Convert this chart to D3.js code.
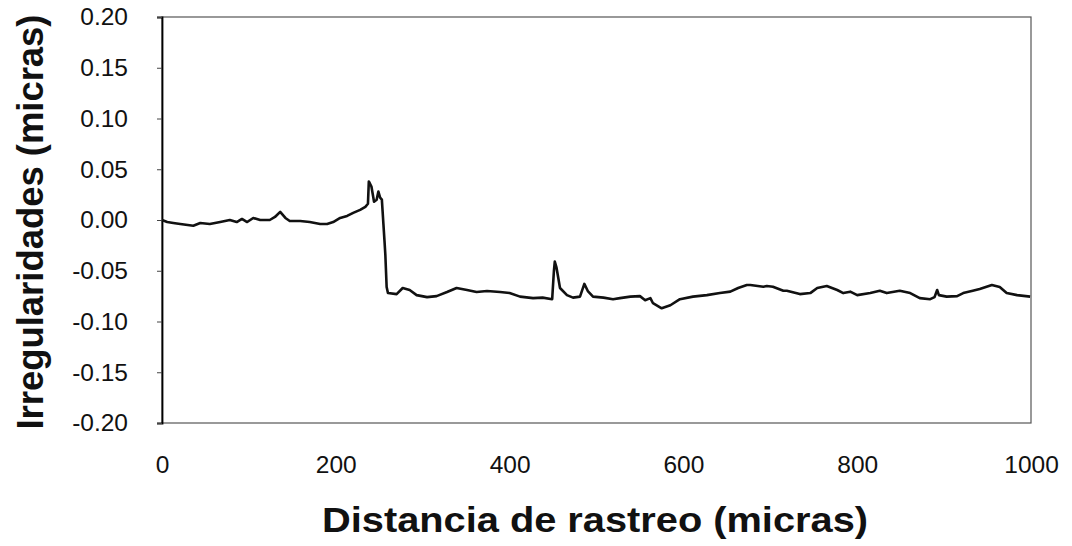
<!DOCTYPE html>
<html><head><meta charset="utf-8">
<script src="https://cdn.jsdelivr.net/npm/d3@7"></script>
<style>body{margin:0;background:#fff}svg{display:block}</style>
</head><body>
<script>
const distancia = [0,6,13,21,36,44,55,67,78,86,92,98,105,113,124,130,136,142,147,159,170,182,190,197,205,213,220,228,234,237,238,241,244,247,249,251,253,256,257,258.5,260,270,277,285,293,305,316,328,339,351,362,374,389,400,412,427,438,449,451,452,454,458,466,473,481,486,490,496,508,519,527,539,550,556,562,565,575,585,596,611,627,642,654,663,673,677,692,696,703,715,719,734,746,754,765,777,784,792,800,815,826,834,849,861,872,884,889,892,894,903,915,922,933,941,955,964,972,984,999];
const irregularidades = [0,-0.002,-0.003,-0.004,-0.0056,-0.003,-0.004,-0.002,0,-0.002,0.001,-0.002,0.002,0,0,0.003,0.008,0.002,-0.001,-0.001,-0.002,-0.004,-0.004,-0.002,0.002,0.004,0.007,0.01,0.013,0.016,0.038,0.033,0.018,0.02,0.028,0.022,0.02,-0.02,-0.034,-0.066,-0.072,-0.073,-0.067,-0.069,-0.074,-0.076,-0.075,-0.071,-0.067,-0.069,-0.071,-0.070,-0.071,-0.072,-0.0755,-0.077,-0.0765,-0.078,-0.05,-0.041,-0.047,-0.067,-0.074,-0.0765,-0.0755,-0.063,-0.070,-0.0755,-0.0765,-0.078,-0.077,-0.0755,-0.075,-0.079,-0.077,-0.082,-0.087,-0.084,-0.078,-0.0755,-0.074,-0.072,-0.0706,-0.067,-0.064,-0.064,-0.0657,-0.065,-0.0657,-0.0697,-0.0697,-0.073,-0.072,-0.067,-0.065,-0.069,-0.072,-0.0706,-0.074,-0.072,-0.0697,-0.072,-0.0697,-0.072,-0.077,-0.078,-0.076,-0.069,-0.074,-0.0755,-0.075,-0.072,-0.0697,-0.068,-0.064,-0.066,-0.072,-0.074,-0.0755];
const yTicks = [0.20,0.15,0.10,0.05,0.00,-0.05,-0.10,-0.15,-0.20];
const xTicks = [0,200,400,600,800,1000];

const W=1072,H=546;
const svg=d3.select("body").append("svg").attr("width",W).attr("height",H);
const x=d3.scaleLinear().domain([0,1000]).range([162,1031]);
const y=d3.scaleLinear().domain([-0.2,0.2]).range([423,17]);
const font="'Liberation Sans', Arial, sans-serif";
const fmtY = d => d3.format(".2f")(d).replace("\u2212","-");

// frame
svg.append("rect").attr("x",162).attr("y",17).attr("width",869).attr("height",406)
  .attr("fill","none").attr("stroke","#555").attr("stroke-width",1.2);

// y axis
const ya=svg.append("g").attr("transform","translate(162,0)")
  .call(d3.axisLeft(y).tickValues(yTicks).tickFormat(fmtY).tickSize(5).tickPadding(29));
ya.select(".domain").attr("stroke","#000").attr("stroke-width",1.8);
ya.selectAll(".tick line").attr("stroke","#444");
ya.selectAll("text").attr("font-family",font).attr("font-size",24.5).attr("fill","#111");

// x axis
const xa=svg.append("g").attr("transform","translate(0,423)")
  .call(d3.axisBottom(x).tickValues(xTicks).tickFormat(d3.format("d")).tickSize(0).tickPadding(33));
xa.select(".domain").remove();
xa.selectAll("text").attr("font-family",font).attr("font-size",24.5).attr("fill","#111");

// line
const line=d3.line().x((d,i)=>x(distancia[i])).y(d=>y(d));
svg.append("path").datum(irregularidades).attr("d",line)
  .attr("fill","none").attr("stroke","#111").attr("stroke-width",2.6).attr("stroke-linejoin","round");

// titles
svg.append("text").attr("x",595).attr("y",532).attr("text-anchor","middle")
  .attr("font-family",font).attr("font-weight","bold").attr("font-size",35).attr("fill","#111")
  .attr("textLength",546).attr("lengthAdjust","spacingAndGlyphs")
  .text("Distancia de rastreo (micras)");
svg.append("text").attr("transform","translate(43,222) rotate(-90)").attr("text-anchor","middle")
  .attr("font-family",font).attr("font-weight","bold").attr("font-size",37).attr("fill","#111")
  .attr("textLength",415).attr("lengthAdjust","spacingAndGlyphs")
  .text("Irregularidades (micras)");
</script>
</body></html>
